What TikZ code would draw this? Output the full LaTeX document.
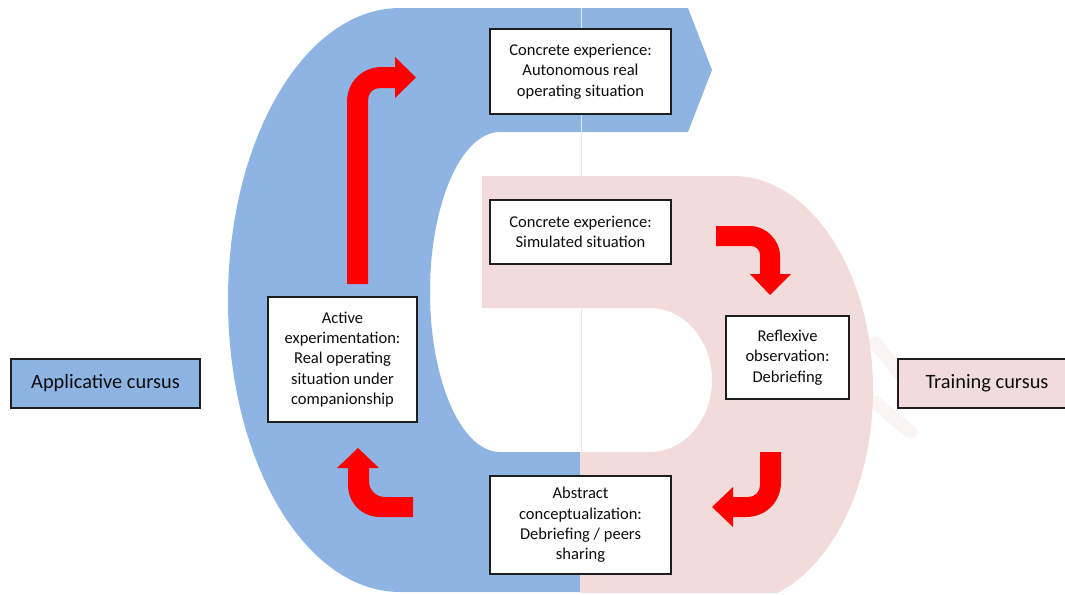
\documentclass[tikz,border=0pt]{standalone}
\usepackage{fontspec}
\setmainfont{Carlito}
\definecolor{cblue}{RGB}{142,180,227}
\definecolor{cpink}{RGB}{242,220,219}
\definecolor{cred}{RGB}{255,0,0}
\definecolor{cguide}{RGB}{226,233,243}
\definecolor{cedge}{RGB}{30,30,30}
\tikzset{
  stepbox/.style={draw=cedge, line width=1.1pt, fill=white, align=center, inner sep=0pt,
    text=black!95, font=\fontsize{12.4}{15.3}\selectfont},
  legendbox/.style={draw=cedge, line width=1.1pt, align=center, inner sep=0pt,
    text=black!95, font=\fontsize{15.3}{18}\selectfont},
  bigarrow/.style={fill=cred, draw=none},
  guide/.style={draw=cguide, line width=0.6},
  ghost/.style={draw=cpink, opacity=0.3, line width=10, line cap=round}
}
\begin{document}
\begin{tikzpicture}[x=0.75pt, y=-0.75pt]
\useasboundingbox (0,0) rectangle (1065,594);
\begin{scope}
\clip (0,0) rectangle (1065,592);
% blue C-shaped band
\fill[cblue] (400,8) -- (688,8) -- (712,70) -- (688,132) -- (500,132)
  arc[start angle=-90, end angle=-270, x radius=70, y radius=160]
  -- (580,452) -- (580,592) -- (400,592)
  arc[start angle=90, end angle=270, x radius=172, y radius=292] -- cycle;
% pink D-shaped band
\fill[cpink] (482,176) -- (733,176)
  arc[start angle=-90, end angle=90, x radius=140, y radius=214]
  -- (580,604) -- (580,452) -- (650,452)
  arc[start angle=90, end angle=-90, x radius=62, y radius=72]
  -- (482,308) -- cycle;
\end{scope}
% faint guide line and reflection
\draw[guide] (581,8) -- (581,176);
\draw[guide] (581,308) -- (581,452);
\draw[ghost] (875,343) -- (922,400);
\draw[ghost] (875,402) -- (910,432);
% red bent arrows
\fill[bigarrow] (347,284) -- (347,102) .. controls (347,82) and (362,67) .. (382,67)
  -- (395,67) -- (395,57) -- (416,77.5) -- (395,98) -- (395,88) -- (380,88)
  .. controls (373,88) and (368,93) .. (368,100) -- (368,284) -- cycle;
\fill[bigarrow] (716,226) -- (750,226) .. controls (766,226) and (780,240) .. (780,256)
  -- (780,274) -- (791,274) -- (770,295) -- (750,274) -- (760,274) -- (760,255)
  .. controls (760,250) and (756,246) .. (751,246) -- (716,246) -- cycle;
\fill[bigarrow] (760,452) -- (781,452) -- (781,482) .. controls (781,502) and (766,517) .. (746,517)
  -- (733,517) -- (733,527) -- (712,507) -- (733,487) -- (733,497) -- (748,497)
  .. controls (755,497) and (760,492) .. (760,485) -- cycle;
\fill[bigarrow] (413,497) -- (385,497) .. controls (376,497) and (369,490) .. (369,481)
  -- (369,468) -- (379,468) -- (358,448) -- (337,468) -- (348,468) -- (348,485)
  .. controls (348,503) and (362,517) .. (380,517) -- (413,517) -- cycle;
% step boxes
\node[stepbox, minimum width=135.75pt, minimum height=63.75pt] (real) at (580.5,71.5)
  {Concrete experience:\\Autonomous real\\operating situation};
\node[stepbox, minimum width=135.75pt, minimum height=48pt] (sim) at (580.5,232)
  {Concrete experience:\\Simulated situation};
\node[stepbox, minimum width=92.25pt, minimum height=62.25pt] (refl) at (787.5,357.5)
  {Reflexive\\observation:\\Debriefing};
\node[stepbox, minimum width=135.75pt, minimum height=73.5pt] (abst) at (580.5,525)
  {Abstract\\conceptualization:\\Debriefing / peers\\sharing};
\node[stepbox, minimum width=111.75pt, minimum height=93.75pt] (act) at (342.5,359.5)
  {Active\\experimentation:\\Real operating\\situation under\\companionship};
% legend boxes
\node[legendbox, fill=cblue, minimum width=141.75pt, minimum height=36.75pt] (appl) at (105.5,383.5)
  {Applicative cursus};
\node[legendbox, fill=cpink, minimum width=133.5pt, minimum height=36.75pt] (train) at (987,383.5)
  {Training cursus};
\end{tikzpicture}
\end{document}
